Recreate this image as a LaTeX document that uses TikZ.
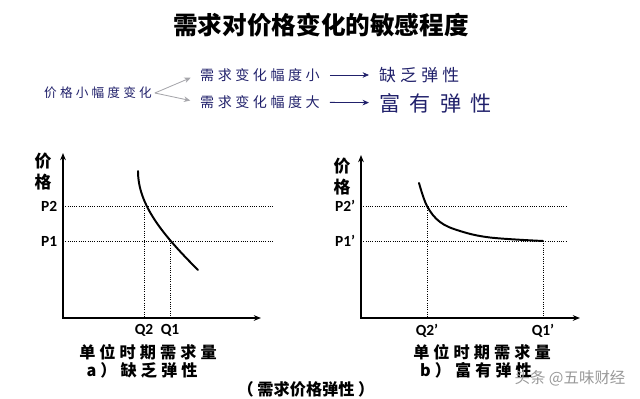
\documentclass[tikz,border=0pt]{standalone}
\usepackage{fontspec}
\setmainfont{Carlito}
\newfontfamily\cjk{Noto Sans CJK SC}
\newfontfamily\cjkwide[LetterSpace=25]{Noto Sans CJK SC}
\newfontfamily\cjkwider[LetterSpace=45]{Noto Sans CJK SC}
\usetikzlibrary{arrows.meta,positioning}
\definecolor{inkblue}{rgb}{0.13,0.13,0.42}
\definecolor{branchgray}{rgb}{0.65,0.65,0.67}
\tikzset{
  titulo/.style={
    font=\cjk\bfseries\fontsize{17.5}{20}\selectfont,
    inner sep=0pt
  },
  rama/.style={
    text=inkblue,
    inner sep=2pt,
    font=\cjkwide\fontsize{10}{12}\selectfont
  },
  efecto/.style={
    text=inkblue,
    inner sep=2pt,
    font=\cjkwide\fontsize{12}{14}\selectfont
  },
  flecha/.style={
    -{Stealth[length=1.6mm,width=1.4mm]},
    semithick,
    inkblue,
    shorten <=5pt,
    shorten >=5pt
  },
  bifurca/.style={
    -{Stealth[length=1.6mm,width=1.4mm]},
    semithick,
    branchgray,
    shorten >=5pt
  },
  eje/.style={
    {Stealth[length=1.8mm,width=1.4mm]}-{Stealth[length=1.8mm,width=1.4mm]},
    line width=1pt
  },
  curva/.style={
    line width=1.4pt,
    line cap=round
  },
  guia/.style={
    densely dotted,
    line width=.6pt
  },
  precio/.style={
    font=\cjk\bfseries\fontsize{12}{15}\selectfont,
    align=center,
    inner sep=0pt
  },
  valor/.style={
    font=\bfseries\fontsize{11}{13}\selectfont,
    inner sep=1pt
  },
  pie/.style={
    font=\cjkwide\bfseries\fontsize{11.5}{13}\selectfont,
    inner sep=0pt
  },
  nota/.style={
    font=\cjk\bfseries\fontsize{11.5}{13}\selectfont,
    inner sep=0pt
  },
  marca/.style={
    font=\cjk\fontsize{11}{13}\selectfont,
    text=black!40,
    inner sep=0pt
  }
}
\begin{document}
\begin{tikzpicture}[x=0.025cm,y=-0.025cm,node distance=3pt]
\useasboundingbox (0,0) rectangle (640,399);

\node[titulo] (titulo) at (321,25) {需求对价格变化的敏感程度};

% reaccion de la demanda
\node[rama,font=\cjkwide\fontsize{9}{11}\selectfont] (precio) at (98,93) {价格小幅度变化};
\node[rama] (pequeno) at (260,75) {需求变化幅度小};
\node[rama] (grande) at (260,102) {需求变化幅度大};
\node[efecto,anchor=west] (inelastica) at (376,75) {缺乏弹性};
\node[efecto,font=\cjkwider\fontsize{15}{18}\selectfont,anchor=west] (elastica) at (376,103) {富有弹性};
\draw[bifurca] (precio.east) -- (pequeno.west);
\draw[bifurca] (precio.east) -- (grande.west);
\draw[flecha] (pequeno) -- (inelastica);
\draw[flecha] (grande) -- (elastica);

% a) poco elastica
\coordinate (oA) at (63,318);
\coordinate (yA) at (63,153);
\coordinate (xA) at (261,318);
\coordinate (a2) at (144,206);
\coordinate (a1) at (170,241);
\draw[eje] (yA) -- (oA) -- (xA);
\draw[guia] (oA |- a2) -- (273,206);
\draw[guia] (oA |- a1) -- (273,241);
\draw[guia] (a2) -- (a2 |- oA);
\draw[guia] (a1) -- (a1 |- oA);
\draw[curva] (138,171) .. controls (138,205) and (163,235) .. (198,270);
\node[precio] (ejeA) at (43,172) {价\\格};
\node[valor,left=of oA |- a2] (pA2) {P2};
\node[valor,left=of oA |- a1] (pA1) {P1};
\node[valor,below=of a2 |- oA] (qA2) {Q2};
\node[valor,below=of a1 |- oA] (qA1) {Q1};
\node[pie] (cantA) at (148,352) {单位时期需求量};
\node[pie] (casoA) at (142,370) {a）缺乏弹性};

% b) elastica
\coordinate (oB) at (361,318);
\coordinate (yB) at (361,155);
\coordinate (xB) at (580,318);
\coordinate (b2) at (427,206);
\coordinate (b1) at (543,241);
\draw[eje] (yB) -- (oB) -- (xB);
\draw[guia] (oB |- b2) -- (566,206);
\draw[guia] (oB |- b1) -- (566,241);
\draw[guia] (b2) -- (b2 |- oB);
\draw[guia] (b1) -- (b1 |- oB);
\draw[curva] plot[smooth,tension=.6] coordinates {(419,183) (b2) (440,222) (460,231) (490,237.5) (b1)};
\node[precio] (ejeB) at (342,177) {价\\格};
\node[valor,left=of oB |- b2] (pB2) {P2'};
\node[valor,left=of oB |- b1] (pB1) {P1'};
\node[valor,below=of b2 |- oB] (qB2) {Q2'};
\node[valor,below=of b1 |- oB] (qB1) {Q1'};
\node[pie] (cantB) at (482,352) {单位时期需求量};
\node[pie] (casoB) at (476,370) {b）富有弹性};

\node[nota] (nota) at (306,389) {（ 需求价格弹性 ）};
\node[marca] (marca) at (570,378) {头条 @五味财经};
\end{tikzpicture}
\end{document}
